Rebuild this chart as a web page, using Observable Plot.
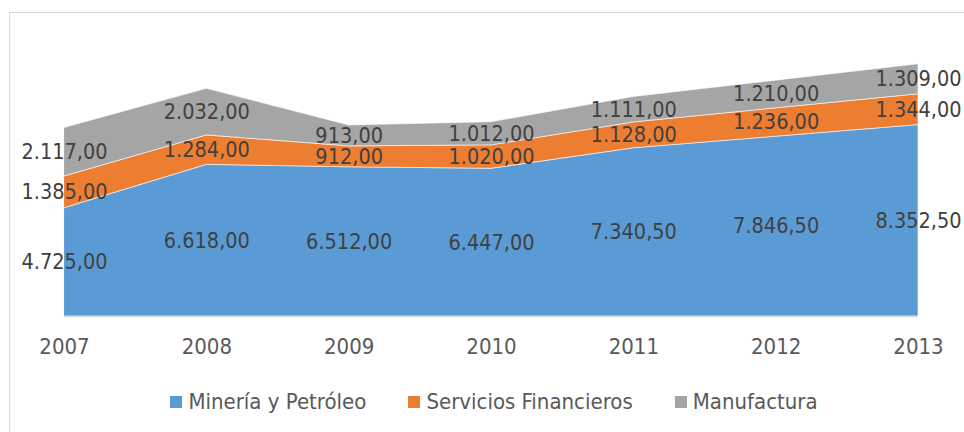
<!DOCTYPE html>
<html>
<head>
<meta charset="utf-8">
<script src="https://cdn.jsdelivr.net/npm/d3@7"></script>
<script src="https://cdn.jsdelivr.net/npm/@observablehq/plot@0.6"></script>
<style>
  html, body { margin: 0; padding: 0; background: #fff; }
  #wrap { position: relative; width: 964px; height: 432px; overflow: hidden; font-family: "DejaVu Sans Condensed", sans-serif; }
  #frame { position: absolute; left: 9px; top: 12px; width: 980px; height: 440px; border-left: 1px solid #d9d9d9; border-top: 1px solid #d9d9d9; box-sizing: border-box; }
  #chart { position: absolute; left: 0; top: 0; }
  #legend { position: absolute; left: 24px; top: 389px; width: 940px; display: flex; justify-content: center; font-size: 22px; color: #595959; }
  .item { display: flex; align-items: center; margin: 0 21px; }
  .sw { width: 12px; height: 12px; margin-right: 6px; }
</style>
</head>
<body>
<div id="wrap">
  <div id="frame"></div>
  <div id="chart"></div>
  <div id="legend"></div>
</div>
<script>
const years = [2007, 2008, 2009, 2010, 2011, 2012, 2013];
const seriesNames = ["Minería y Petróleo", "Servicios Financieros", "Manufactura"];
const mineria = [4725, 6618, 6512, 6447, 7340.5, 7846.5, 8352.5];
const servicios = [1385, 1284, 912, 1020, 1128, 1236, 1344];
const manufactura = [2117, 2032, 913, 1012, 1111, 1210, 1309];
const colors = ["#5b9bd5", "#ed7d31", "#a5a5a5"];

const seriesValues = [mineria, servicios, manufactura];
const data = [];
seriesNames.forEach((s, i) => years.forEach((y, j) => data.push({year: y, series: s, value: seriesValues[i][j]})));

const fmt = d3.formatLocale({decimal: ",", thousands: ".", grouping: [3], currency: ["", ""]}).format(",.2f");

const chart = Plot.plot({
  width: 964,
  height: 372,
  marginLeft: 64,
  marginRight: 46,
  marginTop: 41,
  marginBottom: 56,
  style: {fontFamily: '"DejaVu Sans Condensed", sans-serif', background: "transparent"},
  x: {domain: [2007, 2013], ticks: years, tickFormat: "d", tickSize: 0, tickPadding: 22, label: null},
  y: {domain: [0, 12000], axis: null},
  color: {domain: seriesNames, range: colors},
  marks: [
    Plot.areaY(data, Plot.stackY({x: "year", y: "value", z: "series", fill: "series", order: seriesNames, stroke: "#ffffff", strokeWidth: 0.6})),
    Plot.ruleY([0], {stroke: "#d9d9d9", strokeWidth: 1.5}),
    Plot.text(data, Plot.stackY({x: "year", y: "value", z: "series", order: seriesNames, text: d => fmt(d.value), fill: "#404040", fontSize: 21.5})),
    Plot.axisX({ticks: years, tickFormat: "d", tickSize: 0, tickPadding: 22, fontSize: 22, color: "#595959", label: null})
  ]
});
chart.querySelectorAll("g[aria-label='x-axis tick label'] text").forEach(t => t.setAttribute("fill", "#595959"));
document.getElementById("chart").appendChild(chart);

const legend = document.getElementById("legend");
seriesNames.forEach((s, i) => {
  const it = document.createElement("div");
  it.className = "item";
  const sw = document.createElement("div");
  sw.className = "sw";
  sw.style.background = colors[i];
  const tx = document.createElement("span");
  tx.textContent = s;
  it.appendChild(sw); it.appendChild(tx);
  legend.appendChild(it);
});
</script>
</body>
</html>
